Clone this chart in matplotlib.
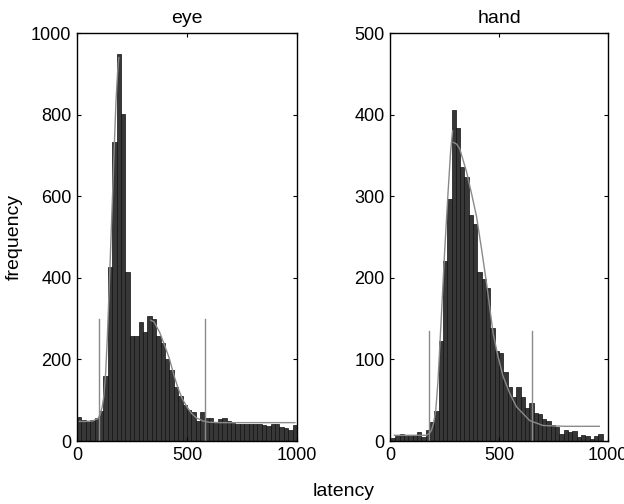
import numpy as np
import matplotlib
matplotlib.use("Agg")
import matplotlib.pyplot as plt

plt.rcParams['font.family'] = ['Liberation Sans', 'DejaVu Sans']

# --- eye: 50 bins of 20 ms from 0 to 1000 ---
eye_edges = np.linspace(0, 1000, 51)
eye_counts = [60, 51, 47, 51, 57, 73, 159, 427, 732, 948,
              802, 414, 257, 257, 292, 268, 306, 300, 257, 239,
              202, 173, 133, 110, 88, 77, 70, 50, 70, 56,
              56, 45, 55, 57, 48, 43, 41, 42, 42, 41,
              42, 41, 38, 36, 42, 41, 35, 33, 28, 40]
# fitted curve, drawn in two pieces
eye_fit1_x = [10, 40, 70, 95, 105, 115, 122, 130, 138, 146, 154, 162, 170, 177, 184, 190]
eye_fit1_y = [48, 48, 49, 55, 64, 85, 110, 165, 255, 370, 490, 610, 730, 830, 900, 940]
eye_fit2_x = [335, 350, 376, 400, 421, 440, 459, 478, 497, 520, 542, 573, 600, 650, 990]
eye_fit2_y = [296, 292, 266, 232, 200, 162, 130, 104, 86, 68, 57, 49, 46, 45, 45]
eye_marks = [100, 580]
eye_mark_h = 300

# --- hand: 49 bins from 5 to 975 ---
hand_edges = np.linspace(5, 975, 50)
hand_counts = [4, 6, 8, 6, 6, 7, 11, 5, 13, 23,
               37, 122, 220, 297, 406, 383, 336, 323, 277, 266,
               207, 198, 188, 138, 110, 108, 85, 66, 54, 66,
               54, 41, 47, 34, 33, 27, 25, 19, 17, 8,
               13, 11, 12, 5, 7, 6, 3, 6, 9]
hand_fit1_x = [20, 100, 165, 180, 190, 200, 210, 220, 235, 250, 265, 278, 287]
hand_fit1_y = [7, 7, 7, 9, 13, 22, 38, 73, 150, 229, 299, 355, 380]
hand_fit2_x = [290, 305, 320, 351, 375, 397, 420, 443, 473, 495, 519, 550, 580, 641, 702, 800, 960]
hand_fit2_y = [366, 364, 358, 330, 302, 275, 235, 193, 132, 104, 79, 58, 42, 25, 19, 18, 18]
hand_marks = [180, 650]
hand_mark_h = 135

BAR_FC = "#373737"
LINE_C = "#8a8a8a"

fig = plt.figure(figsize=(6.24, 5.04), dpi=100)
ax1 = fig.add_axes([0.1234, 0.125, 0.3526, 0.8095])
ax2 = fig.add_axes([0.625, 0.125, 0.3494, 0.8095])


def draw(ax, edges, counts, fits, marks, mark_h, ymax, ystep, title):
    edges = np.asarray(edges)
    ax.bar(edges[:-1], counts, width=np.diff(edges), align="edge",
           color=BAR_FC, edgecolor="#111111", linewidth=0.5)
    for fx, fy in fits:
        ax.plot(fx, fy, color=LINE_C, linewidth=1.0)
    for m in marks:
        ax.plot([m, m], [0, mark_h], color=LINE_C, linewidth=1.0)
    ax.set_xlim(0, 1000)
    ax.set_ylim(0, ymax)
    ax.set_xticks([0, 500, 1000])
    ax.set_yticks(np.arange(0, ymax + 1, ystep))
    ax.tick_params(direction="in", length=3, width=0.8, labelsize=13,
                   top=True, right=True, pad=4)
    for s in ax.spines.values():
        s.set_linewidth(1.0)
    ax.set_title(title, fontsize=14, pad=7)


draw(ax1, eye_edges, eye_counts, [(eye_fit1_x, eye_fit1_y), (eye_fit2_x, eye_fit2_y)],
     eye_marks, eye_mark_h, 1000, 200, "eye")
draw(ax2, hand_edges, hand_counts, [(hand_fit1_x, hand_fit1_y), (hand_fit2_x, hand_fit2_y)],
     hand_marks, hand_mark_h, 500, 100, "hand")

ax1.set_ylabel("frequency", fontsize=14, labelpad=6)
fig.text(0.55, 0.025, "latency", ha="center", va="center", fontsize=14)

fig.savefig("out.png", dpi=100)
